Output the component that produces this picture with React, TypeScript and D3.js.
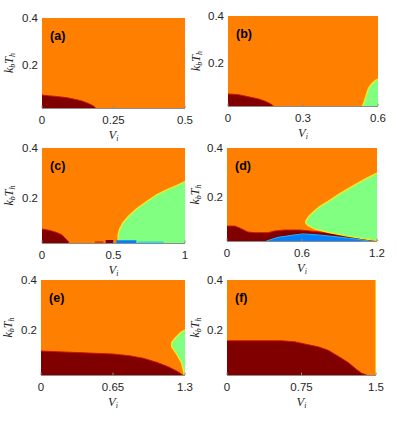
import React from "react";
import * as d3 from "d3";

type Pt = [number, number];

// ---------- data ----------
const panelIds = ["a", "b", "c", "d", "e", "f"];
const xMaxes = [0.5, 0.6, 1.0, 1.2, 1.3, 1.5];
const xTicks: number[][] = [
  [0, 0.25, 0.5],
  [0, 0.3, 0.6],
  [0, 0.5, 1],
  [0, 0.6, 1.2],
  [0, 0.65, 1.3],
  [0, 0.75, 1.5],
];
const xTickLabels: string[][] = [
  ["0", "0.25", "0.5"],
  ["0", "0.3", "0.6"],
  ["0", "0.5", "1"],
  ["0", "0.6", "1.2"],
  ["0", "0.65", "1.3"],
  ["0", "0.75", "1.5"],
];
const yTicks = [0.2, 0.4];
const yTickLabels = ["0.2", "0.4"];
const yDomain: Pt = [0.02, 0.4];

// dark-red region upper boundary (V_i, k_bT_h)
const darkRedA: Pt[] = [[0, 0.075], [0.022, 0.072], [0.057, 0.068], [0.085, 0.064], [0.114, 0.057], [0.139, 0.05], [0.161, 0.04], [0.179, 0.029], [0.188, 0.02]];
const darkRedB: Pt[] = [[0, 0.071], [0.042, 0.068], [0.082, 0.059], [0.122, 0.05], [0.149, 0.04], [0.169, 0.03], [0.182, 0.02]];
const darkRedC: Pt[] = [[0, 0.076], [0.056, 0.07], [0.103, 0.062], [0.138, 0.053], [0.161, 0.04], [0.18, 0.029], [0.189, 0.02]];
const darkRedD: Pt[] = [[0, 0.081], [0.062, 0.081], [0.102, 0.073], [0.166, 0.057], [0.222, 0.054], [0.326, 0.054], [0.382, 0.061], [0.462, 0.065], [0.582, 0.065], [0.662, 0.061], [0.822, 0.053], [0.982, 0.043], [1.142, 0.03], [1.2, 0.024], [1.2, 0.02]];
const darkRedE: Pt[] = [[0, 0.116], [0.154, 0.113], [0.38, 0.109], [0.651, 0.104], [0.802, 0.097], [0.923, 0.087], [1.044, 0.071], [1.149, 0.053], [1.225, 0.036], [1.27, 0.023], [1.28, 0.02]];
const darkRedF: Pt[] = [[0, 0.157], [0.549, 0.157], [0.683, 0.153], [0.784, 0.144], [0.918, 0.133], [1.019, 0.119], [1.12, 0.095], [1.221, 0.07], [1.305, 0.042], [1.356, 0.027], [1.406, 0.02]];

// green region boundary
const greenB: Pt[] = [[0.538, 0.02], [0.545, 0.038], [0.553, 0.066], [0.562, 0.095], [0.576, 0.115], [0.592, 0.13], [0.6, 0.133]];
const greenC: Pt[] = [[0.532, 0.02], [0.532, 0.053], [0.541, 0.073], [0.564, 0.1], [0.603, 0.126], [0.662, 0.157], [0.732, 0.186], [0.802, 0.213], [0.872, 0.233], [0.942, 0.25], [1.0, 0.266]];
const greenD: Pt[] = [[1.2, 0.298], [1.128, 0.279], [1.048, 0.257], [0.968, 0.233], [0.888, 0.209], [0.808, 0.181], [0.742, 0.161], [0.688, 0.138], [0.654, 0.12], [0.63, 0.102], [0.63, 0.093], [0.648, 0.083], [0.702, 0.069], [0.808, 0.055], [0.942, 0.042], [1.075, 0.031], [1.155, 0.025], [1.2, 0.023]];
const greenE: Pt[] = [[1.3, 0.2], [1.27, 0.193], [1.239, 0.18], [1.21, 0.167], [1.18, 0.149], [1.18, 0.133], [1.21, 0.113], [1.239, 0.093], [1.27, 0.067], [1.285, 0.04], [1.294, 0.02]];

// blue region upper boundary (panel d)
const blueD: Pt[] = [[0.315, 0.02], [0.408, 0.035], [0.515, 0.043], [0.608, 0.049], [0.728, 0.045], [0.915, 0.035], [1.048, 0.027], [1.142, 0.02]];

// thin bottom strips in panel c
const stripX0C = [0.37, 0.445, 0.52, 0.67];
const stripX1C = [0.43, 0.5, 0.66, 0.85];
const stripTopC = [0.027, 0.032, 0.031, 0.026];
const stripColC = ["#E83A00", "#800000", "#0080FF", "#30D8E8"];

const darkRed = [darkRedA, darkRedB, darkRedC, darkRedD, darkRedE, darkRedF];
const greens: (Pt[] | null)[] = [null, greenB, greenC, greenD, greenE, null];

// ---------- layout ----------
const boxes = [
  { l: 42, r: 185, t: 18, b: 108, yl: 29 },
  { l: 228, r: 378, t: 16, b: 106, yl: 28 },
  { l: 42, r: 185, t: 148, b: 243, yl: 29 },
  { l: 227, r: 377, t: 148, b: 241, yl: 28 },
  { l: 41, r: 185, t: 280, b: 375, yl: 29 },
  { l: 227, r: 376, t: 280, b: 375, yl: 28 },
];

const ORANGE = "#FF8000";
const DARKRED = "#800000";
const GREEN = "#80FF80";
const BLUE = "#0080FF";
const TXT = "#262626";

function Panel({ i }: { i: number }) {
  const bx = boxes[i];
  const xMax = xMaxes[i];
  const x = d3.scaleLinear().domain([0, xMax]).range([bx.l, bx.r]);
  const y = d3.scaleLinear().domain(yDomain).range([bx.b, bx.t]);
  const line = d3.line<Pt>().x((d) => x(d[0])).y((d) => y(d[1]));

  const dr = darkRed[i];
  const drPoly: Pt[] = [[0, yDomain[0]], ...dr, [dr[dr.length - 1][0], yDomain[0]]];
  const g = greens[i];
  let gPoly: Pt[] | null = null;
  if (g) {
    if (g[0][1] === yDomain[0]) gPoly = [...g, [xMax, g[g.length - 1][1]], [xMax, yDomain[0]]];
    else gPoly = [...g, [xMax, yDomain[0]]];
  }
  const midY = (bx.t + bx.b) / 2;

  return (
    <g>
      <rect x={bx.l} y={bx.t} width={bx.r - bx.l} height={bx.b - bx.t} fill={ORANGE} />
      <path d={line(drPoly)! + "Z"} fill={DARKRED} />
      <path d={line(dr)!} fill="none" stroke="#D01000" strokeWidth={0.9} />
      {gPoly && <path d={line(gPoly)! + "Z"} fill={GREEN} />}
      {g && <path d={line(g)!} fill="none" stroke="#F0F020" strokeWidth={1.3} />}
      {i === 3 && (
        <g>
          <path d={line([...blueD, [blueD[0][0], yDomain[0]]])! + "Z"} fill={BLUE} />
          <path d={line(blueD)!} fill="none" stroke="#20B0FF" strokeWidth={1} />
        </g>
      )}
      {i === 2 &&
        stripX0C.map((x0, k) => (
          <rect key={k} x={x(x0)} y={y(stripTopC[k])} width={x(stripX1C[k]) - x(x0)} height={y(yDomain[0]) - y(stripTopC[k])} fill={stripColC[k]} />
        ))}
      {i === 5 && <rect x={x(1.493)} y={bx.t} width={x(xMax) - x(1.493)} height={bx.b - bx.t} fill="#E8F020" />}
      <line x1={bx.l} x2={bx.r} y1={bx.b + 0.5} y2={bx.b + 0.5} stroke="#8C8C8C" strokeWidth={1} />
      {xTicks[i].map((v, k) => (
        <g key={k}>
          <line x1={x(v)} x2={x(v)} y1={bx.b} y2={bx.b - 2.5} stroke="#8C8C8C" />
          <text x={x(v)} y={bx.b + 16} textAnchor="middle" fontFamily="Liberation Sans, Arial, sans-serif" fontSize={11.5} fill={TXT}>
            {xTickLabels[i][k]}
          </text>
        </g>
      ))}
      {yTicks.map((v, k) => (
        <text key={k} x={bx.l - 4} y={y(v) + 4} textAnchor="end" fontFamily="Liberation Sans, Arial, sans-serif" fontSize={11.5} fill={TXT}>
          {yTickLabels[k]}
        </text>
      ))}
      <text x={bx.l + 8} y={bx.t + 22} fontFamily="Liberation Sans, Arial, sans-serif" fontWeight="bold" fontSize={12.5} fill="#000">
        ({panelIds[i]})
      </text>
      <text x={(bx.l + bx.r) / 2} y={bx.b + 31} textAnchor="middle" fontFamily="Liberation Serif, serif" fontStyle="italic" fontSize={12.5} fill={TXT}>
        V<tspan dy={2} fontSize={8}>i</tspan>
      </text>
      <text transform={`translate(${bx.l - bx.yl},${midY}) rotate(-90)`} textAnchor="middle" fontFamily="Liberation Serif, serif" fontStyle="italic" fontSize={12} fill={TXT}>
        k<tspan dy={2} fontSize={8}>b</tspan>
        <tspan dy={-2}>T</tspan>
        <tspan dy={2} fontSize={8}>h</tspan>
      </text>
    </g>
  );
}

export default function App() {
  return (
    <svg width={397} height={425} style={{ position: "absolute", left: 0, top: 0, background: "#fff" }}>
      {panelIds.map((_, i) => (
        <Panel key={i} i={i} />
      ))}
    </svg>
  );
}
